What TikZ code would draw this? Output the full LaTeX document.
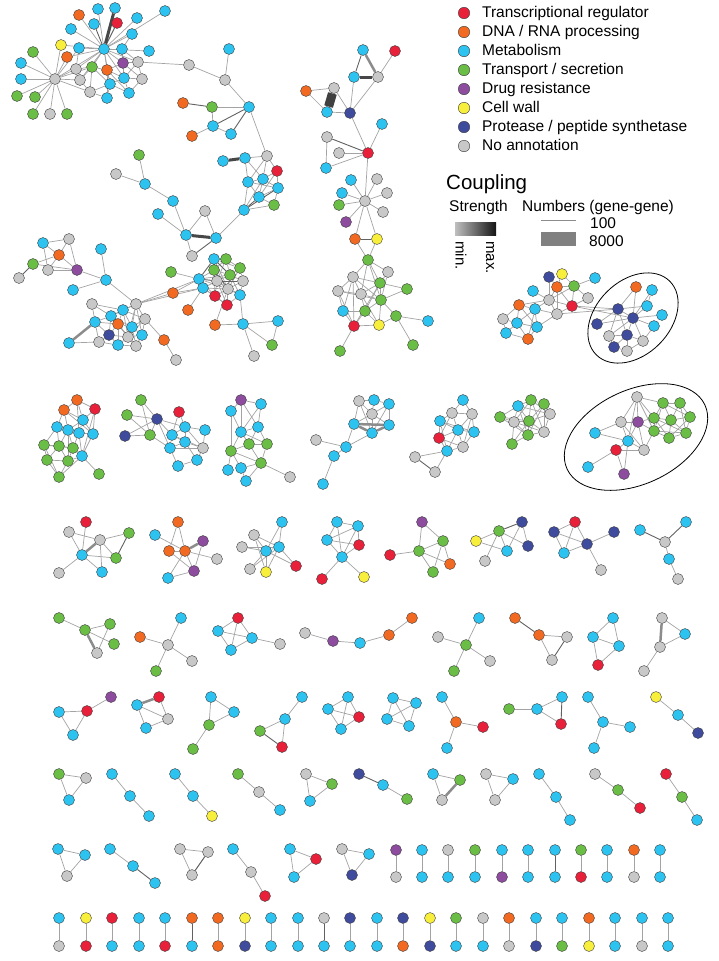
\documentclass[tikz,border=0pt]{standalone}
\usepackage{fontspec}
\setmainfont{Liberation Sans}
\usetikzlibrary{positioning}
\definecolor{cR}{HTML}{E8203A}
\definecolor{cO}{HTML}{F26A21}
\definecolor{cC}{HTML}{2CC3F1}
\definecolor{cG}{HTML}{6ABD45}
\definecolor{cP}{HTML}{8E4C9F}
\definecolor{cY}{HTML}{F8EE3C}
\definecolor{cB}{HTML}{3F4B9C}
\definecolor{cN}{HTML}{C8C8C8}
\pgfdeclarelayer{bg}
\pgfsetlayers{bg,main}
\tikzset{
  gn/.style={circle, draw=black!75, line width=0.4pt, minimum size=11pt, inner sep=0pt},
  lgc/.style={gn, minimum size=11.5pt},
  lgt/.style={inner sep=0pt, font=\fontsize{15.5}{18}\selectfont, text height=11.5pt, text depth=2.5pt},
  lk/.style={draw=black!36, line width=0.7pt},
  lkd/.style={draw=black!62, line width=0.9pt},
  lkw/.style={draw=black!45, line width=2.5pt},
  lkx/.style={draw=black!72, line width=3pt},
  lkb/.style={draw=black!75, line width=9pt},
}
\begin{document}
\begin{tikzpicture}[x=1pt,y=-1pt]
\useasboundingbox (0,0) rectangle (718,961);

% big networks, upper half
\foreach \n/\x/\y/\c in {
  a1/104/49/C, a2/79/15/O, a3/98/9/C, a4/115/8/C, a5/117/23/R, a6/137/18/C, a7/165/11/C, a8/94/24/C,
  a9/71/29/C, a10/132/34/C, a11/61/45/Y, a12/79/48/C, a13/122/49/C, a14/149/51/C, a15/67/57/O,
  a16/33/52/G, a17/21/63/C, a18/55/79/N, a19/21/79/C, a20/17/96/G, a21/35/97/G, a22/33/114/G,
  a23/50/114/N, a24/67/114/G, a25/76/69/N, a26/92/67/G, a27/107/70/O, a28/123/63/P, a29/138/62/N,
  a30/80/80/N, a31/110/84/C, a32/124/78/C, a33/142/79/N, a34/90/92/N, a35/107/98/C, a36/129/93/C,
  a37/189/65/N, a38/225/80/N, a39/229/49/C,
  b1/183/103/O, b2/212/107/G, b3/213/126/C, b4/192/136/O, b5/231/134/C, b6/249/107/C, b7/223/161/C,
  b8/245/158/C, b9/267/156/N, b10/277/171/R, b11/248/182/C, b12/263/179/C, b13/278/188/C,
  b14/259/197/C, b15/274/205/G, b16/244/210/C,
  c1/139/155/G, c2/116/174/N, c3/145/184/C, c4/173/201/C, c5/158/214/C, c6/186/235/C, c7/205/211/N, c8/216/238/C,
  d1/192/256/N, d2/171/272/G, d3/173/293/O, d4/199/279/C, d5/203/288/C, d6/214/259/C, d7/226/259/G,
  d8/214/270/G, d9/230/275/G, d10/217/281/N, d11/240/268/G, d12/228/289/N, d13/215/296/R, d14/227/305/R,
  d15/240/295/C, d16/243/281/N, d17/188/310/O, d18/215/325/O, d19/243/324/C, d20/278/321/C,
  d21/272/345/G, d22/254/356/N,
  e1/43/243/C, e2/69/239/N, e3/59/255/O, e4/33/264/G, e5/48/270/N, e6/77/270/P, e7/19/278/N,
  e8/101/249/C, e9/106/280/C, e10/73/290/C, e11/136/304/N, e12/92/304/N, e13/123/310/C, e14/111/316/C,
  e15/95/322/C, e16/145/319/N, e17/118/324/O, e18/132/327/C, e19/109/335/B, e20/128/337/N,
  e21/142/335/C, e22/69/343/C, e23/99/342/N, e24/118/345/C, e25/136/346/N, e26/164/340/O, e27/176/360/N,
  m1/363/50/C, m2/395/51/R, m3/354/77/C, m4/378/77/N, m5/306/91/O, m6/334/88/N, m7/327/112/C,
  m8/350/113/B, m9/382/124/C, m10/327/137/N, m11/339/153/N, m12/368/153/R, m13/326/168/C,
  m14/351/180/C, m15/377/179/N, m16/342/193/C, m17/387/193/N, m18/365/201/N, m19/339/205/G,
  m20/383/212/N, m21/346/222/P, m22/355/239/O, m23/377/239/Y, m24/368/260/G, m25/353/277/N,
  m26/388/272/N, m27/380/283/G, m28/407/289/G, m29/338/291/N, m30/361/294/N, m31/381/300/G,
  m32/343/311/C, m33/365/311/G, m34/396/316/G, m35/428/321/C, m36/354/326/R, m37/379/325/Y,
  m38/340/351/G, m39/413/345/G,
  r1/549/277/B, r2/562/274/Y, r3/595/278/C, r4/533/291/C, r5/557/287/O, r6/574/286/G, r7/588/298/N,
  r8/549/300/N, r9/519/305/O, r10/572/306/R, r11/535/309/C, r12/557/314/N, r13/503/319/N,
  r14/517/323/C, r15/537/327/C, r16/506/333/C, r17/528/339/O,
  s1/636/287/O, s2/652/290/C, s3/647/306/C, s4/618/309/B, s5/662/315/C, s6/633/318/B, s7/597/324/B,
  s8/654/326/C, s9/609/336/N, s10/627/335/B, s11/643/341/N, s12/614/347/B, s13/627/351/N}
  \node[gn,fill=c\c] (\n) at (\x,\y) {};

% second band
\foreach \n/\x/\y/\c in {
  u1/77/400/O, u2/64/410/O, u3/95/409/R, u4/83/420/C, u5/57/427/C, u6/68/430/C, u7/79/433/C,
  u8/93/434/C, u9/44/445/G, u10/59/446/G, u11/73/448/G, u12/82/456/C, u13/47/460/G, u14/68/461/G,
  u15/59/477/G, u16/99/474/G,
  v1/141/400/G, v2/127/415/G, v3/157/419/B, v4/179/412/R, v5/185/427/C, v6/205/430/C, v7/125/436/B,
  v8/150/435/G, v9/172/435/C, v10/185/442/C, v11/170/448/C, v12/203/448/N, v13/197/460/C, v14/178/466/C,
  w1/241/400/P, w2/231/411/C, w3/261/404/C, w4/258/427/C, w5/241/432/C, w6/231/451/G, w7/249/444/G,
  w8/267/444/G, w9/261/463/G, w10/241/468/C, w11/228/470/C, w12/246/481/C, w13/290/477/N,
  x1/359/401/N, x2/374/400/C, x3/389/404/C, x4/372/414/N, x5/354/424/C, x6/389/425/C, x7/372/433/C,
  x8/346/447/C, x9/316/440/N, x10/334/456/C, x11/323/484/C,
  y1/463/400/C, y2/452/413/N, y3/472/414/N, y4/440/421/C, y5/458/430/C, y6/474/432/C, y7/439/438/R,
  y8/463/447/N, y9/447/451/C, y10/415/457/N, y11/435/472/N,
  z1/531/400/G, z2/544/404/G, z3/518/406/C, z4/500/417/G, z5/550/414/N, z6/514/422/N, z7/529/421/G,
  z8/544/432/N, z9/528/435/G, z10/512/444/G,
  k1/637/397/N, k2/663/403/G, k3/680/403/G, k4/621/422/N, k5/638/422/P, k6/654/418/G, k7/671/420/G,
  k8/690/417/G, k9/654/431/G, k10/686/433/G, k11/669/438/G, k12/595/433/C, k13/628/441/C,
  k14/644/450/N, k15/616/450/R, k16/588/467/C, k17/624/474/P}
  \node[gn,fill=c\c] (\n) at (\x,\y) {};

% small networks
\foreach \n/\x/\y/\c in {
  qa1/86/522/R, qa2/69/532/N, qa3/100/540/N, qa4/129/533/G, qa5/82/555/C, qa6/116/558/G, qa7/59/573/N, qa8/102/572/C,
  qb1/178/522/O, qb2/155/535/C, qb3/203/541/P, qb4/169/551/O, qb5/185/551/O, qb6/217/559/N, qb7/194/571/P, qb8/168/578/C,
  qc1/282/522/C, qc2/254/535/N, qc3/242/547/N, qc4/266/551/C, qc5/279/547/C, qc6/296/566/R, qc7/250/569/N, qc8/266/572/Y,
  qd1/337/522/C, qd2/358/526/C, qd3/327/540/C, qd4/359/545/R, qd5/342/557/C, qd6/322/579/R, qd7/364/577/Y,
  qe1/422/522/P, qe2/443/541/G, qe3/390/555/R, qe4/419/551/G, qe5/450/564/O, qe6/433/572/G,
  qf1/522/522/B, qf2/499/531/G, qf3/476/541/Y, qf4/507/551/C, qf5/528/546/B, qf6/485/561/N,
  qg1/575/522/R, qg2/554/532/B, qg3/587/544/B, qg4/614/532/B, qg5/564/553/C, qg6/601/570/N,
  qh1/640/530/C, qh2/686/522/C, qh3/665/542/N, qh4/669/559/C, qh5/678/579/N,
  ra1/59/618/G, ra2/85/630/G, ra3/110/624/G, ra4/114/644/G, ra5/97/653/N,
  rb1/181/618/C, rb2/140/637/O, rb3/168/645/N, rb4/192/661/N, rb5/156/671/G,
  rc1/238/618/R, rc2/218/631/C, rc3/252/638/C, rc4/231/650/C, rc5/280/644/N,
  rd1/305/633/N, rd2/333/641/P, rd3/360/643/C, rd4/389/635/O, rd5/412/618/O,
  re1/479/618/C, re2/438/637/N, re3/466/645/G, re4/490/661/N, re5/454/671/G,
  rf1/515/618/O, rf2/539/635/O, rf3/567/637/N, rf4/552/660/N,
  rg1/613/618/C, rg2/593/637/C, rg3/619/646/C, rg4/598/665/R,
  rh1/662/618/N, rh2/685/634/C, rh3/660/647/N, rh4/644/671/N,
  sa1/111/697/P, sa2/87/711/R, sa3/59/712/C, sa4/73/735/C,
  sb1/159/697/R, sb2/137/705/C, sb3/168/719/N, sb4/146/728/C,
  sc1/211/697/C, sc2/234/712/C, sc3/209/725/G, sc4/193/749/G,
  sd1/302/697/C, sd2/285/719/C, sd3/260/731/G, sd4/282/747/R,
  se1/348/697/C, se2/328/709/C, se3/359/717/R, se4/341/729/C,
  sf1/393/698/C, sf2/416/703/C, sf3/387/719/C, sf4/409/726/C,
  sg1/442/697/C, sg2/456/722/O, sg3/483/727/R, sg4/447/748/C,
  sh1/509/709/G, sh2/537/709/C, sh3/562/697/C, sh4/561/724/R,
  si1/588/697/C, si2/603/722/C, si3/630/727/C, si4/594/748/C,
  sj1/656/697/Y, sj2/678/715/C, sj3/698/733/B,
  ta1/59/774/G, ta2/86/778/N, ta3/69/800/C, tb1/112/774/C, tb2/130/796/C, tb3/149/816/C,
  tc1/175/774/C, tc2/193/796/C, tc3/212/816/Y, td1/238/774/G, td2/259/792/N, td3/280/810/C,
  te1/306/774/N, te2/332/784/G, te3/310/801/C, tf1/359/774/B, tf2/383/785/C, tf3/407/799/G,
  tg1/433/774/C, tg2/460/780/G, tg3/442/800/N, th1/486/774/N, th2/513/779/C, th3/495/800/N,
  ti1/539/774/C, ti2/556/797/C, ti3/570/820/C, tj1/595/774/N, tj2/618/790/G, tj3/640/808/R,
  tk1/666/774/R, tk2/682/797/G, tk3/697/820/C,
  ua1/58/849/C, ua2/85/855/C, ua3/67/876/N, ub1/110/849/C, ub2/133/866/C, ub3/155/883/C,
  uc1/180/849/N, uc2/208/852/N, uc3/192/875/N, ud1/233/849/C, ud2/251/872/N, ud3/265/896/R,
  ue1/290/849/C, ue2/316/859/R, ue3/294/877/C, uf1/342/849/N, uf2/369/854/C, uf3/352/875/B}
  \node[gn,fill=c\c] (\n) at (\x,\y) {};

% gene pairs
\foreach \i/\x/\t/\b in {1/396/P/N, 2/422/C/C, 3/448/N/C, 4/475/G/C, 5/502/C/P, 6/528/C/C,
  7/555/C/C, 8/581/G/R, 9/607/C/C, 10/634/O/N, 11/660/C/C} {
  \node[gn,fill=c\t] (pu\i) at (\x,850) {};
  \node[gn,fill=c\b] (pl\i) at (\x,877) {};
}
\foreach \i/\x/\t/\b in {1/59/C/N, 2/86/Y/R, 3/112/R/C, 4/139/C/C, 5/165/C/R, 6/192/O/C,
  7/218/O/O, 8/245/Y/B, 9/271/C/C, 10/298/C/C, 11/324/N/C, 12/350/B/C, 13/377/C/C, 14/403/B/O,
  15/430/Y/B, 16/456/G/C, 17/483/N/C, 18/509/O/N, 19/536/C/B, 20/562/C/G, 21/589/O/Y,
  22/615/C/C, 23/642/C/N, 24/668/C/C} {
  \node[gn,fill=c\t] (qu\i) at (\x,918) {};
  \node[gn,fill=c\b] (ql\i) at (\x,946) {};
}

\begin{pgfonlayer}{bg}
  % light links
  \foreach \s/\t in {
    a1/a2, a1/a3, a1/a6, a1/a7, a1/a9, a1/a10, a1/a11, a1/a12, a1/a13, a1/a14, a1/a18, a1/a25, a1/a26,
    a1/a27, a1/a28, a1/a29, a1/a31, a1/a32, a1/a30, a1/a15, a18/a16, a18/a17, a18/a19, a18/a20,
    a18/a21, a18/a22, a18/a23, a18/a24, a18/a11, a18/a15, a18/a25, a18/a30, a18/a34, a18/a12, a18/a26,
    a12/a25, a25/a26, a25/a30, a26/a27, a26/a30, a26/a34, a26/a31, a27/a28, a27/a31, a27/a35, a27/a32,
    a27/a36, a28/a29, a28/a32, a28/a33, a29/a33, a29/a32, a32/a33, a31/a32, a31/a36, a31/a35, a32/a36,
    a33/a36, a30/a34, a34/a35, a34/a31, a29/a37, a37/a38, a38/a39, a38/b6, a13/a28, a13/a29, a10/a13,
    b2/b3, b3/b4, b3/b5, b2/b6, b6/b9, b9/b8, b9/b10, b9/b12, b9/b11, b11/b12, b11/b14, b11/b16,
    b12/b13, b12/b14, b12/b10, b13/b10, b13/b14, b13/b15, b14/b15, b8/b11, b8/b12, b11/b13, b10/b14,
    b12/b16, b15/b16,
    c1/c3, c2/c3, c3/c4, c4/c6, c5/c6, c6/c7, c7/c8, c8/b16, c6/d1,
    d2/d4, d4/d5, d4/d8, d4/d12, d4/d13, d5/d10, d5/d12, d5/d13, d5/d14, d5/d17, d6/d7, d6/d8,
    d6/d10, d7/d9, d7/d11, d7/d8, d8/d10, d8/d9, d9/d11, d9/d10, d9/d16, d10/d12, d10/d13, d10/d14,
    d11/d16, d12/d13, d12/d14, d12/d15, d12/d16, d13/d14, d14/d15, d15/d16, d10/d15, d6/d12, d7/d10,
    d11/d12, d9/d15, d6/d11, d4/d9, d8/d13, d18/d12, d18/d19, d19/d20, d19/d21, d20/d21, d19/d22,
    d15/d19, d3/d4, d3/d5, e11/d3, e11/d4, e11/d5,
    e1/e2, e1/e3, e1/e5, e2/e3, e2/e6, e3/e6, e3/e5, e5/e6, e4/e3, e4/e6, e6/e9, e8/e9, e10/e9, e9/e11,
    e11/e13, e11/e16, e11/e14, e11/e18, e11/e20, e11/e21, e12/e13, e12/e15, e12/e14, e13/e14, e13/e17,
    e13/e18, e13/e20, e14/e15, e14/e17, e14/e18, e14/e19, e15/e17, e15/e19, e15/e23, e16/e18, e16/e20,
    e16/e21, e16/e26, e17/e18, e17/e19, e17/e20, e17/e24, e18/e20, e18/e21, e18/e25, e19/e20, e19/e23,
    e19/e24, e20/e21, e20/e24, e20/e25, e21/e25, e23/e24, e24/e25, e22/e23, e26/e27, e13/e16, e14/e20,
    e17/e25,
    m4/m2, m5/m6, m5/m7, m7/m8, m6/m8, m3/m8, m4/m8, m8/m12, m12/m9, m11/m12, m10/m13, m13/m12,
    m12/m18, m18/m14, m18/m15, m18/m16, m18/m17, m18/m19, m18/m20, m18/m21, m18/m22, m18/m23,
    m22/m24, m23/m24, m24/m25, m24/m26, m24/m27, m24/m30, m24/m31, m25/m29, m25/m30, m25/m27,
    m25/m32, m25/m36, m26/m27, m26/m31, m27/m28, m27/m30, m27/m31, m27/m33, m27/m36, m28/m31,
    m29/m30, m29/m32, m29/m36, m30/m31, m30/m33, m30/m37, m31/m33, m31/m34, m31/m37, m32/m33,
    m32/m36, m33/m36, m33/m37, m36/m37, m34/m35, m34/m39, m36/m38, m37/m34, m25/m31, m29/m31,
    r1/r5, r1/r8, r2/r5, r2/r6, r3/r6, r4/r8, r5/r6, r5/r8, r5/r10, r5/r12, r6/r7, r6/r10, r6/r8,
    r7/r10, r8/r9, r8/r11, r8/r12, r8/r10, r9/r11, r9/r13, r9/r14, r10/r12, r11/r12, r11/r14, r11/r15,
    r12/r15, r13/r14, r13/r16, r14/r16, r14/r15, r14/r17, r15/r17, r16/r17, r11/r17, r9/r15,
    r10/s4, r12/s4, r10/s6, s1/s4, s1/s6, s2/s6, s3/s6, s4/s6, s4/s7, s4/s9, s4/s10, s5/s6, s6/s8,
    s6/s9, s6/s10, s6/s11, s6/s7, s8/s11, s9/s10, s10/s11, s10/s12, s10/s13, s11/s13, s12/s13,
    s9/s12, s3/s4, s2/s3}
    \draw[lk] (\s) -- (\t);
  \foreach \s/\t in {
    u1/u2, u1/u3, u1/u4, u2/u4, u2/u5, u2/u6, u3/u4, u3/u8, u4/u6, u4/u7, u4/u8, u5/u6, u5/u9,
    u5/u10, u6/u7, u6/u10, u6/u11, u7/u8, u7/u11, u7/u12, u8/u12, u9/u10, u9/u13, u10/u11, u10/u13,
    u10/u14, u11/u12, u11/u14, u12/u14, u12/u16, u13/u14, u13/u15, u14/u15, u9/u15, u12/u15, u5/u7,
    u1/u7, u3/u12, u2/u8, u6/u14, u9/u11,
    v1/v3, v1/v8, v2/v3, v2/v8, v3/v7, v3/v8, v3/v9, v3/v5, v3/v11, v4/v9, v4/v5, v5/v6, v5/v9,
    v5/v10, v6/v12, v9/v10, v9/v11, v10/v11, v10/v12, v10/v13, v11/v12, v11/v14, v12/v13, v13/v14,
    v8/v11, v5/v12, v9/v12, v7/v8,
    w1/w2, w1/w3, w1/w5, w1/w4, w2/w5, w3/w4, w3/w5, w4/w5, w4/w7, w4/w8, w5/w6, w5/w7, w6/w7,
    w6/w9, w6/w10, w6/w11, w7/w8, w7/w9, w8/w9, w9/w10, w9/w13, w10/w12, w9/w12, w5/w8, w2/w6,
    x1/x2, x2/x3, x1/x4, x2/x4, x3/x4, x1/x5, x3/x6, x4/x5, x4/x6, x4/x7, x1/x7, x3/x7, x5/x8,
    x7/x8, x8/x9, x8/x10, x10/x11,
    y1/y2, y1/y3, y2/y3, y2/y4, y2/y5, y3/y5, y3/y6, y4/y5, y4/y7, y4/y9, y5/y6, y5/y7, y5/y8,
    y5/y9, y6/y8, y7/y9, y7/y8, y8/y9, y2/y7, y3/y8, y4/y6, y9/y10, y9/y11,
    z1/z2, z1/z3, z1/z6, z1/z7, z1/z5, z2/z5, z2/z7, z2/z8, z3/z4, z3/z6, z3/z7, z4/z6, z4/z7, z4/z9,
    z5/z7, z5/z8, z6/z7, z6/z9, z6/z10, z7/z8, z7/z9, z8/z9, z9/z10, z3/z9, z1/z8, z2/z9, z6/z8,
    z7/z10, z3/z5,
    k1/k2, k1/k4, k1/k5, k1/k6, k1/k9, k1/k13, k2/k3, k2/k6, k2/k7, k2/k9, k3/k7, k3/k8, k3/k10,
    k4/k5, k4/k12, k4/k13, k4/k14, k5/k6, k5/k9, k5/k13, k5/k14, k6/k7, k6/k9, k6/k11, k6/k10,
    k7/k8, k7/k9, k7/k10, k7/k11, k8/k10, k8/k11, k9/k11, k9/k14, k10/k11, k13/k14, k13/k15,
    k14/k15, k15/k16, k15/k17, k13/k17, k9/k10, k2/k8, k12/k13}
    \draw[lk] (\s) -- (\t);
  \foreach \s/\t in {
    qa1/qa5, qa2/qa3, qa2/qa5, qa3/qa6, qa4/qa3, qa5/qa6, qa5/qa7, qa5/qa8, qa3/qa8,
    qb1/qb4, qb1/qb5, qb2/qb5, qb3/qb7, qb4/qb5, qb4/qb7, qb5/qb7, qb7/qb8, qb5/qb6, qb5/qb8,
    qc1/qc4, qc1/qc5, qc2/qc4, qc2/qc5, qc2/qc8, qc3/qc4, qc3/qc5, qc4/qc5, qc4/qc7, qc4/qc8,
    qc5/qc6, qc4/qc6, qc5/qc8, qc5/qc7,
    qd1/qd2, qd1/qd3, qd1/qd5, qd2/qd3, qd2/qd4, qd2/qd5, qd3/qd5, qd4/qd5, qd3/qd4, qd5/qd6, qd5/qd7,
    qe1/qe2, qe1/qe4, qe2/qe4, qe2/qe5, qe2/qe6, qe3/qe4, qe4/qe5, qe4/qe6,
    qf1/qf4, qf1/qf5, qf2/qf3, qf2/qf4, qf2/qf5, qf2/qf6, qf3/qf4,
    qg1/qg2, qg1/qg5, qg1/qg3, qg2/qg5, qg2/qg3, qg3/qg4, qg3/qg5, qg3/qg6,
    qh3/qh4, qh4/qh5,
    ra1/ra2, ra2/ra3, ra2/ra4, ra3/ra5,
    rb1/rb3, rb2/rb3, rb3/rb4, rb3/rb5,
    rc1/rc2, rc1/rc3, rc1/rc4, rc2/rc3, rc2/rc4, rc3/rc4, rc3/rc5,
    rd1/rd2, rd2/rd3, rd3/rd4, rd4/rd5,
    re1/re3, re2/re3, re3/re4, re3/re5,
    rf2/rf3, rf2/rf4,
    rg1/rg2, rg1/rg3, rg2/rg3, rg2/rg4, rg3/rg4,
    rh1/rh2, rh2/rh3, rh3/rh4,
    sa1/sa2, sa2/sa3, sa2/sa4, sa3/sa4,
    sb1/sb3, sb2/sb3, sb2/sb4, sb3/sb4,
    sc1/sc2, sc1/sc3, sc2/sc3, sc3/sc4,
    sd1/sd2, sd2/sd3, sd2/sd4,
    se1/se2, se1/se3, se1/se4, se2/se3, se2/se4, se3/se4,
    sf1/sf2, sf1/sf3, sf1/sf4, sf2/sf3, sf2/sf4, sf3/sf4,
    sg1/sg2, sg2/sg3, sg2/sg4,
    sh1/sh2, sh2/sh3, sh2/sh4,
    si1/si2, si2/si3, si2/si4,
    sj1/sj2, sj2/sj3,
    ta1/ta2, ta1/ta3, ta2/ta3, tb1/tb2, tb2/tb3, tc1/tc2, tc2/tc3, td1/td2, td2/td3,
    te1/te2, te1/te3, te2/te3, tf2/tf3, tg1/tg2, tg1/tg3, th1/th2, th1/th3, th2/th3,
    ti1/ti2, ti2/ti3, tj1/tj2, tj2/tj3, tk1/tk2, tk2/tk3,
    ua1/ua2, ua1/ua3, ua2/ua3, ub1/ub2, uc1/uc2, uc1/uc3, uc2/uc3, ud1/ud2, ud2/ud3,
    ue1/ue2, ue1/ue3, ue2/ue3, uf1/uf2, uf1/uf3, uf2/uf3}
    \draw[lk] (\s) -- (\t);
  \foreach \i in {1,...,6,8,9,10,11} \draw[lk] (pu\i) -- (pl\i);
  \foreach \i in {1,...,5,7,8,9,10,12,13,...,24} \draw[lk] (qu\i) -- (ql\i);
  % darker links
  \foreach \s/\t in {a1/a5, a1/a8, b1/b2, b3/b6, b5/b6, b14/b16, b13/b16, c8/d1, d4/d6, d4/d10,
    d8/d12, d6/d9, d10/d16, d9/d12, e4/e7, m1/m3, m10/m12, m22/m23, y10/y11, qa4/qa6, qf1/qf2,
    qh1/qh3, qh2/qh3, rf1/rf2, rf3/rf4, sd3/sd4, sh3/sh4, tf1/tf2, ub2/ub3, uc2/uc3, pu7/pl7,
    qu6/ql6, qu11/ql11}
    \draw[lkd] (\s) -- (\t);
  % heavy links
  \foreach \s/\t in {m1/m4, x5/x6, x5/x7, x6/x7, qa3/qa5, qb3/qb5, ra2/ra5, rh1/rh3, sb1/sb2,
    tg2/tg3, e15/e22}
    \draw[lkw] (\s) -- (\t);
  \foreach \s/\t in {a1/a4, b7/b8, c6/c8, m3/m4}
    \draw[lkx] (\s) -- (\t);
  \draw[lkb] (m6) -- (m7);
\end{pgfonlayer}

% groups marked by ellipses
\draw[line width=0.8pt, rotate around={45:(633,318)}] (633,318) ellipse [x radius=52, y radius=37];
\draw[line width=0.8pt, rotate around={25:(636,437)}] (636,437) ellipse [x radius=76, y radius=47];

% legend
\node[lgc,fill=cR] (lg1) at (464,13) {};
\node[lgt,right=12pt of lg1] (lt1) {Transcriptional regulator};
\node[lgc,fill=cO] (lg2) at (464,32) {};
\node[lgt,right=12pt of lg2] (lt2) {DNA / RNA processing};
\node[lgc,fill=cC] (lg3) at (464,51) {};
\node[lgt,right=12pt of lg3] (lt3) {Metabolism};
\node[lgc,fill=cG] (lg4) at (464,70) {};
\node[lgt,right=12pt of lg4] (lt4) {Transport / secretion};
\node[lgc,fill=cP] (lg5) at (464,89) {};
\node[lgt,right=12pt of lg5] (lt5) {Drug resistance};
\node[lgc,fill=cY] (lg6) at (464,108) {};
\node[lgt,right=12pt of lg6] (lt6) {Cell wall};
\node[lgc,fill=cB] (lg7) at (464,127) {};
\node[lgt,right=12pt of lg7] (lt7) {Protease / peptide synthetase};
\node[lgc,fill=cN] (lg8) at (464,146) {};
\node[lgt,right=12pt of lg8] (lt8) {No annotation};

\node[anchor=base west, inner sep=0pt, font=\fontsize{20.5}{24}\selectfont] (cpl) at (446,189) {Coupling};
\node[anchor=base west, inner sep=0pt, font=\fontsize{15.5}{18}\selectfont] (stg) at (449,211) {Strength};
\node[anchor=base west, inner sep=0pt, font=\fontsize{15.5}{18}\selectfont] (nmb) at (522,211) {Numbers (gene-gene)};
\shade[left color=black!25, right color=black!92] (455,222) rectangle (496,235);
\node[rotate=-90, anchor=west, inner sep=0pt, font=\fontsize{15}{18}\selectfont] (mn) at (461,241) {min.};
\node[rotate=-90, anchor=west, inner sep=0pt, font=\fontsize{15}{18}\selectfont] (mx) at (490,241) {max.};
\coordinate (thA) at (541,220);
\coordinate (thB) at (576,220);
\draw[draw=black!45, line width=0.6pt] (thA) -- (thB);
\fill[black!50] (541,232) rectangle (576,246);
\node[anchor=base west, inner sep=0pt, font=\fontsize{15.5}{18}\selectfont] (n100) at (590,228) {100};
\node[anchor=base west, inner sep=0pt, font=\fontsize{15.5}{18}\selectfont] (n8000) at (589,246) {8000};
\end{tikzpicture}
\end{document}
